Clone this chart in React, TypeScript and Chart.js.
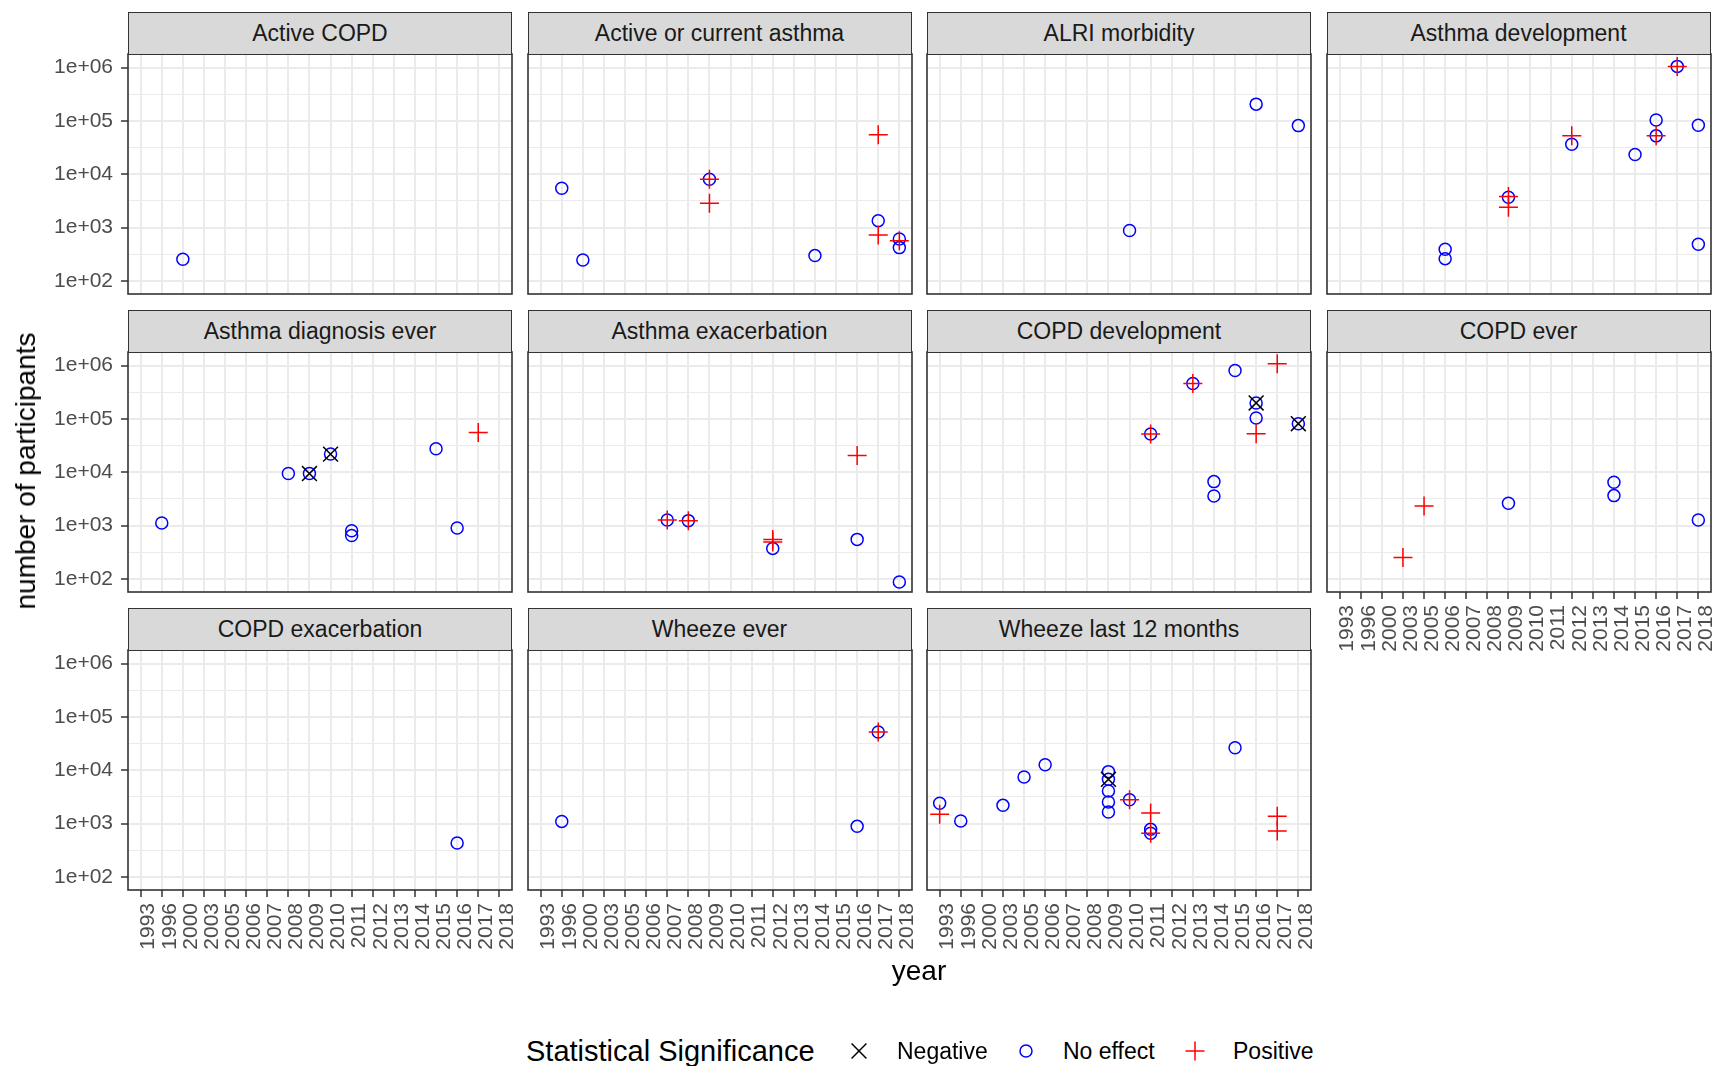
import React, { useEffect, useRef } from 'react';
import { Chart, registerables } from 'chart.js';

Chart.register(...registerables);

// ---------- data ----------
const years = ['1993', '1996', '2000', '2003', '2005', '2006', '2007', '2008', '2009', '2010', '2011', '2012', '2013', '2014', '2015', '2016', '2017', '2018'];
const yTickLabels = ['1e+02', '1e+03', '1e+04', '1e+05', '1e+06'];
const significanceLevels = ['Negative', 'No effect', 'Positive'];

type Row = [string, number, string];

const activeCopd: Row[] = [['2000', 255, 'No effect']];
const activeAsthma: Row[] = [
  ['1996', 5480, 'No effect'], ['2000', 248, 'No effect'], ['2009', 8070, 'No effect'], ['2009', 8070, 'Positive'],
  ['2009', 2860, 'Positive'], ['2014', 299, 'No effect'], ['2017', 54700, 'Positive'], ['2017', 1350, 'No effect'],
  ['2017', 730, 'Positive'], ['2018', 614, 'No effect'], ['2018', 570, 'Positive'], ['2018', 422, 'No effect'],
];
const alriMorbidity: Row[] = [['2010', 880, 'No effect'], ['2016', 206000, 'No effect'], ['2018', 81600, 'No effect']];
const asthmaDevelopment: Row[] = [
  ['2006', 394, 'No effect'], ['2006', 262, 'No effect'], ['2009', 3700, 'No effect'], ['2009', 3810, 'Positive'],
  ['2009', 2410, 'Positive'], ['2012', 52400, 'Positive'], ['2012', 36600, 'No effect'], ['2015', 23400, 'No effect'],
  ['2016', 104000, 'No effect'], ['2016', 52400, 'No effect'], ['2016', 52400, 'Positive'], ['2017', 1050000, 'No effect'],
  ['2017', 1050000, 'Positive'], ['2018', 83100, 'No effect'], ['2018', 489, 'No effect'],
];
const asthmaDiagnosisEver: Row[] = [
  ['1996', 1120, 'No effect'], ['2008', 9460, 'No effect'], ['2009', 9460, 'No effect'], ['2009', 9460, 'Negative'],
  ['2010', 21900, 'No effect'], ['2010', 21900, 'Negative'], ['2011', 800, 'No effect'], ['2011', 650, 'No effect'],
  ['2015', 27500, 'No effect'], ['2016', 900, 'No effect'], ['2017', 55700, 'Positive'],
];
const asthmaExacerbation: Row[] = [
  ['2007', 1270, 'No effect'], ['2007', 1270, 'Positive'], ['2008', 1240, 'No effect'], ['2008', 1240, 'Positive'],
  ['2012', 552, 'Positive'], ['2012', 492, 'Positive'], ['2012', 374, 'No effect'], ['2016', 20600, 'Positive'],
  ['2016', 552, 'No effect'], ['2018', 88, 'No effect'],
];
const copdDevelopment: Row[] = [
  ['2011', 52000, 'No effect'], ['2011', 52000, 'Positive'], ['2013', 459000, 'No effect'], ['2013', 459000, 'Positive'],
  ['2014', 6680, 'No effect'], ['2014', 3600, 'No effect'], ['2015', 806000, 'No effect'], ['2016', 199000, 'No effect'],
  ['2016', 199000, 'Negative'], ['2016', 104000, 'No effect'], ['2016', 52700, 'Positive'], ['2017', 1080000, 'Positive'],
  ['2018', 81300, 'No effect'], ['2018', 81300, 'Negative'],
];
const copdEver: Row[] = [
  ['2003', 253, 'Positive'], ['2005', 2330, 'Positive'], ['2009', 2620, 'No effect'], ['2014', 6520, 'No effect'],
  ['2014', 3650, 'No effect'], ['2018', 1270, 'No effect'],
];
const copdExacerbation: Row[] = [['2016', 432, 'No effect']];
const wheezeEver: Row[] = [
  ['1996', 1100, 'No effect'], ['2016', 889, 'No effect'], ['2017', 52200, 'No effect'], ['2017', 52200, 'Positive'],
];
const wheezeLast12: Row[] = [
  ['1993', 2400, 'No effect'], ['1993', 1490, 'Positive'], ['1996', 1120, 'No effect'], ['2003', 2200, 'No effect'],
  ['2005', 7480, 'No effect'], ['2006', 12700, 'No effect'], ['2009', 9420, 'No effect'], ['2009', 6770, 'No effect'],
  ['2009', 6770, 'Negative'], ['2009', 4090, 'No effect'], ['2009', 2540, 'No effect'], ['2009', 1650, 'No effect'],
  ['2010', 2810, 'No effect'], ['2010', 2810, 'Positive'], ['2011', 1580, 'Positive'], ['2011', 781, 'No effect'],
  ['2011', 658, 'No effect'], ['2011', 658, 'Positive'], ['2015', 26500, 'No effect'], ['2017', 1370, 'Positive'],
  ['2017', 726, 'Positive'],
];

const panelTitles = [
  'Active COPD', 'Active or current asthma', 'ALRI morbidity', 'Asthma development',
  'Asthma diagnosis ever', 'Asthma exacerbation', 'COPD development', 'COPD ever',
  'COPD exacerbation', 'Wheeze ever', 'Wheeze last 12 months',
];
const panelRows = [
  activeCopd, activeAsthma, alriMorbidity, asthmaDevelopment,
  asthmaDiagnosisEver, asthmaExacerbation, copdDevelopment, copdEver,
  copdExacerbation, wheezeEver, wheezeLast12,
];

// ---------- layout / style ----------
const FONT = '"Liberation Sans", Arial, Helvetica, sans-serif';
const COL_LEFT = [128, 527.5, 927, 1326.5];
const STRIP_TOP = [11.5, 309.5, 607.5];
const STRIP_H = 42.5;
const PANEL_W = 384;
const PANEL_H = 239.5;
const PAD_T = 26;
const PAD_R = 24;
const Y_MIN_LOG = 1.756;
const Y_MAX_LOG = 6.2535;

const styleFor: Record<string, any> = {
  'Negative': { pointStyle: 'crossRot', radius: 10.5, borderColor: '#000000', borderWidth: 1.5 },
  'No effect': { pointStyle: 'circle', radius: 6, borderColor: '#0000ff', borderWidth: 1.5 },
  'Positive': { pointStyle: 'cross', radius: 9.5, borderColor: '#ff0000', borderWidth: 1.5 },
};

const borderPlugin = {
  id: 'panelBorder',
  afterDraw(chart: any) {
    const { ctx, chartArea: a } = chart;
    ctx.save();
    ctx.strokeStyle = '#333333';
    ctx.lineWidth = 1.6;
    ctx.strokeRect(a.left, a.top, a.right - a.left, a.bottom - a.top);
    ctx.restore();
  },
};

function Panel({ title, rows, col, row }: { title: string; rows: Row[]; col: number; row: number }) {
  const ref = useRef<HTMLCanvasElement>(null);
  const showX = row === 2 || (row === 1 && col === 3);
  const showY = col === 0;
  const L = COL_LEFT[col];
  const T = STRIP_TOP[row] + STRIP_H;
  const yW = showY ? L : 30;
  const xH = showX ? 80 : 30;
  const W = Math.ceil(yW + PANEL_W + PAD_R);
  const H = Math.ceil(PAD_T + PANEL_H + xH);

  useEffect(() => {
    if (!ref.current) return;
    const order = ['Negative', 'Positive', 'No effect'];
    const datasets = order.map((sig) => {
      const st = styleFor[sig];
      return {
        label: sig,
        data: rows.filter((r) => r[2] === sig).map((r) => ({ x: years.indexOf(r[0]), y: r[1] })),
        pointStyle: st.pointStyle,
        pointRadius: st.radius,
        pointHoverRadius: st.radius,
        pointBorderColor: st.borderColor,
        pointBackgroundColor: 'rgba(0,0,0,0)',
        pointBorderWidth: st.borderWidth,
        showLine: false,
        clip: false as any,
      };
    });
    const chart = new Chart(ref.current, {
      type: 'scatter',
      data: { datasets },
      options: {
        animation: false,
        responsive: false,
        devicePixelRatio: 1,
        layout: { padding: { top: PAD_T, right: PAD_R, left: 0, bottom: 0 } },
        plugins: { legend: { display: false }, tooltip: { enabled: false } },
        events: [],
        scales: {
          x: {
            type: 'linear',
            min: -0.6,
            max: 17.6,
            afterBuildTicks: (s: any) => { s.ticks = years.map((_, i) => ({ value: i })); },
            afterFit: (s: any) => { s.height = xH; s.paddingLeft = 0; s.paddingRight = 0; },
            ticks: {
              display: showX,
              autoSkip: false,
              minRotation: 90,
              maxRotation: 90,
              padding: 6,
              labelOffset: 8,
              color: '#4d4d4d',
              font: { family: FONT, size: 21 },
              callback: (v: any) => years[Math.round(Number(v))] ?? '',
            },
            grid: {
              color: '#ebebeb',
              lineWidth: 2,
              drawTicks: showX,
              tickLength: 7,
              tickColor: '#333333',
              tickWidth: 1.5,
            },
            border: { display: false },
          },
          y: {
            type: 'logarithmic',
            min: Math.pow(10, Y_MIN_LOG),
            max: Math.pow(10, Y_MAX_LOG),
            afterBuildTicks: (s: any) => {
              const t = [];
              for (let k = 0; k <= 8; k++) t.push({ value: Math.pow(10, 2 + k / 2) });
              s.ticks = t;
            },
            afterFit: (s: any) => { s.width = yW; },
            ticks: {
              display: showY,
              autoSkip: false,
              padding: 8,
              color: '#4d4d4d',
              font: { family: FONT, size: 21 },
              callback: (_v: any, i: number) => (i % 2 === 0 ? yTickLabels[i / 2] : ''),
            },
            grid: {
              color: '#ebebeb',
              lineWidth: (c: any) => (c.index % 2 === 0 ? 2 : 1.1),
              drawTicks: showY,
              tickLength: 7,
              tickColor: (c: any) => (c.index % 2 === 0 ? '#333333' : 'rgba(0,0,0,0)'),
              tickWidth: 1.5,
            },
            border: { display: false },
          },
        },
      },
      plugins: [borderPlugin],
    });
    return () => chart.destroy();
  }, []);

  return (
    <>
      <canvas
        ref={ref}
        width={W}
        height={H}
        style={{ position: 'absolute', left: L - yW, top: T - PAD_T, width: W, height: H }}
      />
      <div
        style={{
          position: 'absolute', left: L, top: STRIP_TOP[row], width: PANEL_W, height: STRIP_H + 1,
          background: '#d9d9d9', border: '1.5px solid #333333', boxSizing: 'border-box',
          display: 'flex', alignItems: 'center', justifyContent: 'center',
          fontFamily: FONT, fontSize: 23, color: '#1a1a1a', whiteSpace: 'nowrap',
        }}
      >
        {title}
      </div>
    </>
  );
}

function LegendKey({ sig }: { sig: string }) {
  const st = styleFor[sig];
  const c = 14;
  let shape: any = null;
  if (st.pointStyle === 'circle') {
    shape = <circle cx={c} cy={c} r={st.radius} fill="none" stroke={st.borderColor} strokeWidth={st.borderWidth} />;
  } else if (st.pointStyle === 'cross') {
    const r = st.radius;
    shape = (
      <g stroke={st.borderColor} strokeWidth={st.borderWidth}>
        <line x1={c - r} y1={c} x2={c + r} y2={c} />
        <line x1={c} y1={c - r} x2={c} y2={c + r} />
      </g>
    );
  } else {
    const r = st.radius * Math.SQRT1_2;
    shape = (
      <g stroke={st.borderColor} strokeWidth={st.borderWidth}>
        <line x1={c - r} y1={c - r} x2={c + r} y2={c + r} />
        <line x1={c - r} y1={c + r} x2={c + r} y2={c - r} />
      </g>
    );
  }
  return <svg width={28} height={28} style={{ display: 'block' }}>{shape}</svg>;
}

export default function App() {
  useEffect(() => {
    document.body.style.margin = '0';
    document.body.style.background = '#ffffff';
  }, []);

  const legendY = 1051;
  const keyX = [859, 1026, 1195];
  const labelX = [897, 1063, 1233];

  return (
    <div style={{ position: 'absolute', left: 0, top: 0, width: 1719, height: 1066, background: '#ffffff', overflow: 'hidden', fontFamily: FONT }}>
      {panelTitles.map((t, i) => (
        <Panel key={t} title={t} rows={panelRows[i]} col={i % 4} row={Math.floor(i / 4)} />
      ))}
      <div
        style={{
          position: 'absolute', left: 26, top: 471, transform: 'translate(-50%, -50%) rotate(-90deg)',
          fontSize: 28, color: '#000', whiteSpace: 'nowrap', lineHeight: 1,
        }}
      >
        number of participants
      </div>
      <div
        style={{
          position: 'absolute', left: 919, top: 971, transform: 'translate(-50%, -50%)',
          fontSize: 28, color: '#000', whiteSpace: 'nowrap', lineHeight: 1,
        }}
      >
        year
      </div>
      <div
        style={{
          position: 'absolute', left: 526, top: legendY, transform: 'translateY(-50%)',
          fontSize: 29, color: '#000', whiteSpace: 'nowrap', lineHeight: 1,
        }}
      >
        Statistical Significance
      </div>
      {significanceLevels.map((s, i) => (
        <React.Fragment key={s}>
          <div style={{ position: 'absolute', left: keyX[i] - 14, top: legendY - 14 }}>
            <LegendKey sig={s} />
          </div>
          <div
            style={{
              position: 'absolute', left: labelX[i], top: legendY, transform: 'translateY(-50%)',
              fontSize: 23, color: '#000', whiteSpace: 'nowrap', lineHeight: 1,
            }}
          >
            {s}
          </div>
        </React.Fragment>
      ))}
    </div>
  );
}
